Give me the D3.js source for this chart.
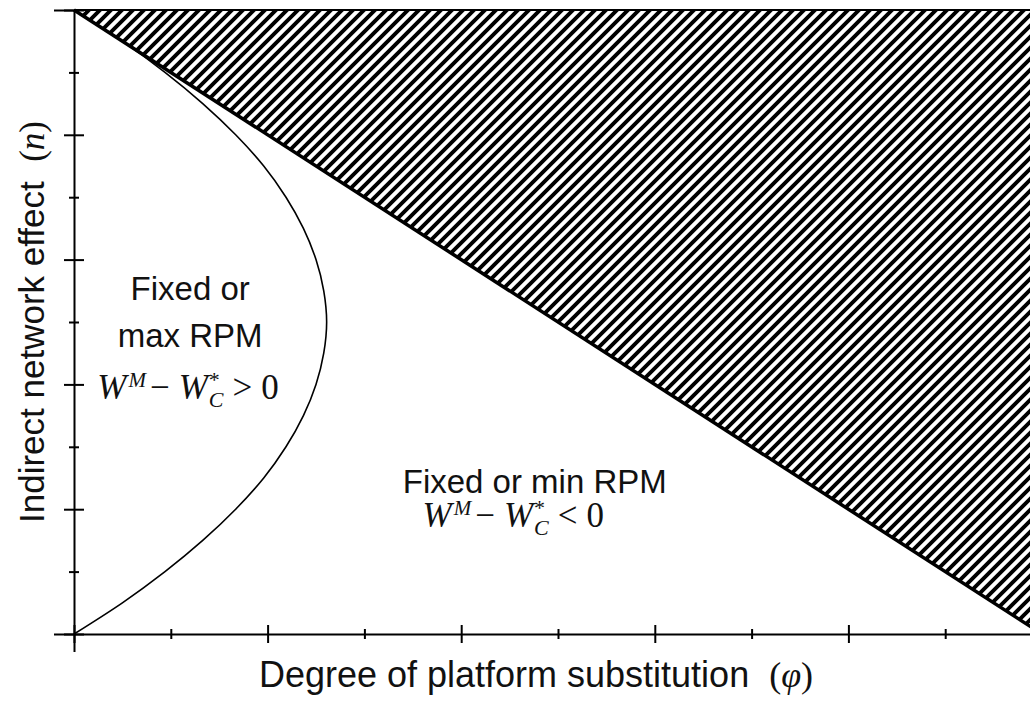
<!DOCTYPE html>
<html>
<head>
<meta charset="utf-8">
<script src="https://cdn.jsdelivr.net/npm/d3@7"></script>
<style>
  body { margin: 0; background: #fff; }
  svg { display: block; }
  .sans { font-family: "Liberation Sans", Arial, sans-serif; }
  .serif { font-family: "Liberation Serif", "Times New Roman", serif; }
</style>
</head>
<body>
<script>
// tick values for both axes (domain 0..1, no labels)
var majorTicks = [0, 0.2, 0.4, 0.6, 0.8, 1],
    minorTicks = [0.1, 0.3, 0.5, 0.7, 0.9];

// boundary curve: n (vertical) and phi (horizontal)
var curveN   = [0, 0.05, 0.1, 0.15, 0.2, 0.25, 0.3, 0.35, 0.4, 0.45, 0.5, 0.55, 0.6, 0.65, 0.7, 0.75, 0.8, 0.85, 0.9, 0.95, 1],
    curvePhi = [0, 0.050, 0.094, 0.133, 0.167, 0.196, 0.219, 0.237, 0.250, 0.258, 0.261, 0.258, 0.250, 0.237, 0.219, 0.196, 0.167, 0.133, 0.094, 0.050, 0];

// straight boundary n = 1 - phi
var linePhi = [0, 1],
    lineN   = [1, 0];

// hatched region above the line
var hatchPhi = [0, 1, 1],
    hatchN   = [1, 1, 0];

var width = 1030,
    height = 702;

// the plot runs a bit past the right edge of the picture (it is cropped)
var x = d3.scaleLinear().domain([0, 1]).range([74, 1042]);
var y = d3.scaleLinear().domain([0, 1]).range([634, 10]);

var svg = d3.select('body')
  .append('svg')
  .attr('width', width)
  .attr('height', height);

// diagonal stripe pattern ("/" direction), tile kept at whole pixels
var tileSize = 11;
var defs = svg.append('defs');
defs.append('pattern')
    .attr('id', 'hatch')
    .attr('patternUnits', 'userSpaceOnUse')
    .attr('width', tileSize)
    .attr('height', tileSize)
  .append('path')
    .attr('d', 'M0,' + tileSize + 'L' + tileSize + ',0' +
               'M' + (-tileSize / 2) + ',' + (tileSize / 2) + 'L' + (tileSize / 2) + ',' + (-tileSize / 2) +
               'M' + (tileSize / 2) + ',' + (tileSize * 1.5) + 'L' + (tileSize * 1.5) + ',' + (tileSize / 2))
    .attr('stroke', '#000')
    .attr('stroke-width', tileSize / Math.SQRT2 / 2);

var line = d3.line()
  .x(function(d) { return x(d[0]); })
  .y(function(d) { return y(d[1]); });

// hatched triangle
svg.append('path')
  .datum(d3.zip(hatchPhi, hatchN))
  .attr('d', line)
  .attr('fill', 'url(#hatch)')
  .attr('stroke', 'none');

// top edge of the hatched area
svg.append('path')
  .datum([[0, 1], [1, 1]])
  .attr('d', line)
  .attr('stroke', '#000')
  .attr('stroke-width', 2);

// thick diagonal
svg.append('path')
  .datum(d3.zip(linePhi, lineN))
  .attr('d', line)
  .attr('fill', 'none')
  .attr('stroke', '#000')
  .attr('stroke-width', 3.5);

// curved boundary
svg.append('path')
  .datum(d3.zip(curvePhi, curveN))
  .attr('d', d3.line()
    .x(function(d) { return x(d[0]); })
    .y(function(d) { return y(d[1]); })
    .curve(d3.curveMonotoneY))
  .attr('fill', 'none')
  .attr('stroke', '#000')
  .attr('stroke-width', 1.6);

// axes: ticks cross the axis line, so shift them after drawing
function drawAxis(axisFn, scale, ticks, size, translate, horizontal, showDomain) {
  var g = svg.append('g')
    .attr('transform', translate)
    .call(axisFn(scale).tickValues(ticks).tickSize(size).tickFormat(''));
  if (!showDomain) g.select('.domain').remove();
  g.select('.domain').attr('stroke-width', 2).attr('stroke', '#000');
  g.selectAll('.tick line')
    .attr('stroke', '#000')
    .attr('stroke-width', 2)
    .each(function() {
      var t = d3.select(this);
      if (horizontal) t.attr('y1', -size / 2).attr('y2', size / 2);
      else t.attr('x1', -size / 2).attr('x2', size / 2);
    });
  return g;
}

drawAxis(d3.axisLeft, y, majorTicks, 20, 'translate(' + x(0) + ',0)', false, true);
drawAxis(d3.axisLeft, y, minorTicks, 10, 'translate(' + x(0) + ',0)', false, false);
drawAxis(d3.axisBottom, x, majorTicks, 18, 'translate(0,' + y(0) + ')', true, true);
drawAxis(d3.axisBottom, x, minorTicks, 10, 'translate(0,' + y(0) + ')', true, false);

// region labels
function label(txt, phi, n) {
  svg.append('text')
    .attr('class', 'sans')
    .attr('x', x(phi))
    .attr('y', y(n))
    .attr('text-anchor', 'middle')
    .attr('font-size', 33)
    .attr('fill', '#111')
    .text(txt);
}
label('Fixed or', 0.12, 0.535);
label('max RPM', 0.12, 0.46);
label('Fixed or min RPM', 0.476, 0.226);

// W^M - W*_C  (sign) 0
function formula(sign, phi, n) {
  var t = svg.append('text')
    .attr('class', 'serif')
    .attr('x', x(phi))
    .attr('y', y(n))
    .attr('font-size', 35)
    .attr('fill', '#111');
  t.append('tspan').attr('font-style', 'italic').text('W');
  t.append('tspan').attr('font-style', 'italic').attr('font-size', 21).attr('dx', 2).attr('dy', -12).text('M');
  t.append('tspan').attr('dy', 12).attr('dx', 4).text('\u2212');
  t.append('tspan').attr('font-style', 'italic').attr('dx', 9).text('W');
  t.append('tspan').attr('font-size', 22).attr('dx', 1).attr('dy', -12).text('*');
  t.append('tspan').attr('font-style', 'italic').attr('font-size', 22).attr('dx', -11).attr('dy', 20).text('C');
  t.append('tspan').attr('dy', -8).attr('dx', 9).text(sign);
  t.append('tspan').attr('dx', 9).text('0');
}
formula('>', 0.024, 0.377);
formula('<', 0.36, 0.172);

// x axis title
var xt = svg.append('text')
  .attr('class', 'sans')
  .attr('x', 536)
  .attr('y', 687)
  .attr('text-anchor', 'middle')
  .attr('font-size', 36)
  .attr('fill', '#111');
xt.append('tspan').text('Degree of platform substitution\u00a0\u00a0');
xt.append('tspan').attr('class', 'serif').text('(');
xt.append('tspan').attr('class', 'serif').attr('font-style', 'italic').text('\u03c6');
xt.append('tspan').attr('class', 'serif').text(')');

// y axis title
var yt = svg.append('text')
  .attr('class', 'sans')
  .attr('transform', 'translate(44,' + y(0.5) + ') rotate(-90)')
  .attr('text-anchor', 'middle')
  .attr('font-size', 35)
  .attr('fill', '#111');
yt.append('tspan').text('Indirect network effect\u00a0\u00a0');
yt.append('tspan').attr('class', 'serif').text('(');
yt.append('tspan').attr('class', 'serif').attr('font-style', 'italic').text('n');
yt.append('tspan').attr('class', 'serif').text(')');
</script>
</body>
</html>
